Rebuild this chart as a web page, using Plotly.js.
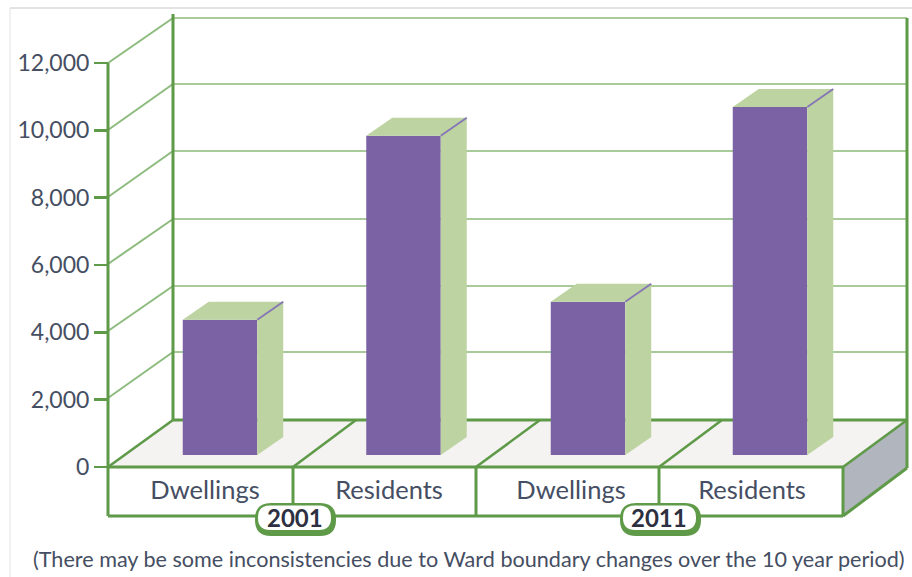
<!DOCTYPE html>
<html>
<head>
<meta charset="utf-8">
<script src="https://cdn.plot.ly/plotly-3.0.1.min.js"></script>
<style>html,body{margin:0;padding:0;background:#fff}#c{width:912px;height:577px}</style>
</head>
<body>
<div id="c"></div>
<script>
var categories = ["Dwellings", "Residents", "Dwellings", "Residents"];
var barValues = [4015, 9480, 4550, 10340];
var yTicks = [0, 2000, 4000, 6000, 8000, 10000, 12000];
var yTickLabels = ["0", "2,000", "4,000", "6,000", "8,000", "10,000", "12,000"];
var years = ["2001", "2011"];
var footnote = "(There may be some inconsistencies due to Ward boundary changes over the 10 year period)";

var W = 912, H = 577;
var UNIT_X = 183.75, UNIT_Y = 404 / 12000;
function cx(px) { return (px - 108) / UNIT_X; }
function vy(py) { return (467 - py) / UNIT_Y; }

var DARK = "#5f9a48", LIGHT = "#a9cb9a", DIAG = "#8dbb7e";
var PURPLE = "#7b62a5", SIDE = "#bdd3a1", EDGE = "#8676b6";
var TEXT = "#454e62";

var shapes = [];
function line(x0, y0, x1, y1, color, w) {
  shapes.push({type: "line", xref: "x", yref: "y", layer: "below",
    x0: cx(x0), y0: vy(y0), x1: cx(x1), y1: vy(y1),
    line: {color: color, width: w}});
}
function poly(pts, fill, stroke, w) {
  var d = pts.map(function (p, i) { return (i ? "L" : "M") + cx(p[0]) + " " + vy(p[1]); }).join(" ") + " Z";
  shapes.push({type: "path", xref: "x", yref: "y", layer: "below", path: d,
    fillcolor: fill, line: {color: stroke || fill, width: stroke ? w : 0}});
}
function pill(x0, y0, x1, y1, r, fill) {
  var P = function (x, y) { return cx(x) + " " + vy(y); };
  var d = "M" + P(x0 + r, y0) + " L" + P(x1 - r, y0) + " Q" + P(x1, y0) + " " + P(x1, y0 + r) +
    " L" + P(x1, y1 - r) + " Q" + P(x1, y1) + " " + P(x1 - r, y1) +
    " L" + P(x0 + r, y1) + " Q" + P(x0, y1) + " " + P(x0, y1 - r) +
    " L" + P(x0, y0 + r) + " Q" + P(x0, y0) + " " + P(x0 + r, y0) + " Z";
  shapes.push({type: "path", xref: "x", yref: "y", layer: "below", path: d,
    fillcolor: fill, line: {width: 0}});
}

// picture frame
line(10, 8, 912, 8, "#c9c7c5", 1.2);
line(10, 8, 10, 577, "#e4e2e0", 1);

// floor and side of the base
poly([[108, 467], [173, 420], [907, 420], [843, 467]], "#f4f3f1");
poly([[843, 467], [907, 420], [907, 468], [843, 516]], "#b0b5be");

// back wall grid and diagonal grid
[18, 84, 151, 219, 286, 352].forEach(function (y) { line(173, y, 907, y, LIGHT, 2.2); });
[[63, 18], [130, 84], [197, 151], [264, 219], [331, 286], [398, 352]].forEach(function (p) {
  line(108, p[0], 173, p[1], DIAG, 2);
});
line(173, 14, 173, 420, DARK, 3);
line(907, 18, 907, 468, DARK, 3);
line(173, 420, 907, 420, DARK, 3);

// floor dividers
[[108, 173], [293, 356], [476, 540], [659, 722], [843, 907]].forEach(function (p) {
  line(p[0], 467, p[1], 420, DARK, 2.6);
});

// front of the base
line(108, 63, 108, 516, DARK, 3);
line(108, 467, 843, 467, DARK, 3);
line(108, 516, 843, 516, DARK, 3);
[293, 476, 659, 843].forEach(function (x) { line(x, 467, x, 516, DARK, 3); });
line(843, 516, 907, 468, DARK, 3);

// year pills
[[255, 336, 258, 331], [620, 701, 623, 696]].forEach(function (p) {
  pill(p[0], 503, p[1], 536, 16, DARK);
  pill(p[2], 505.5, p[3], 530, 12, "#ffffff");
});

var barPos = [cx(220), cx(403.5), cx(588), cx(770)];
var barWidth = 74.5 / UNIT_X;
var barBase = vy(455);
var depthX = 26 / UNIT_X, depthY = 18 / UNIT_Y;

var traces = [];
categories.forEach(function (c, i) {
  var l = barPos[i] - barWidth / 2, r = barPos[i] + barWidth / 2;
  var top = barBase + barValues[i];
  traces.push({type: "scatter", mode: "none", fill: "toself", fillcolor: SIDE, hoverinfo: "skip",
    x: [r, r + depthX, r + depthX, r, r],
    y: [barBase, barBase + depthY, top + depthY, top, barBase]});
  traces.push({type: "scatter", mode: "none", fill: "toself", fillcolor: SIDE, hoverinfo: "skip",
    x: [l, l + depthX, r + depthX, r, l],
    y: [top, top + depthY, top + depthY, top, top]});
  traces.push({type: "scatter", mode: "lines", line: {color: EDGE, width: 1.8}, hoverinfo: "skip",
    x: [r, r + depthX], y: [top, top + depthY]});
});
traces.push({type: "bar", x: barPos, y: barValues, base: barBase, width: barWidth,
  marker: {color: PURPLE, line: {width: 0}}, name: "Count"});

var annotations = years.map(function (t, i) {
  return {xref: "x", yref: "y", x: cx([294.5, 659][i]), y: vy(517), text: "<b>" + t + "</b>",
    showarrow: false, xanchor: "center", yanchor: "middle",
    font: {family: "Lato, sans-serif", size: 24, color: "#2c3040"}};
});
annotations.push({xref: "x", yref: "y", x: cx(469), y: vy(559), text: footnote,
  showarrow: false, xanchor: "center", yanchor: "middle",
  font: {family: "Lato, sans-serif", size: 21.6, color: TEXT}});

var layout = {
  width: W, height: H, showlegend: false,
  margin: {l: 0, r: 0, t: 0, b: 0},
  paper_bgcolor: "#ffffff", plot_bgcolor: "#ffffff",
  hovermode: false,
  xaxis: {
    range: [cx(0), cx(W)], fixedrange: true, showgrid: false, zeroline: false, showline: false,
    anchor: "free", position: (H - 467) / H,
    tickmode: "array", tickvals: [cx(205), cx(389), cx(571), cx(752)], ticktext: categories,
    ticks: "outside", ticklen: 0, tickcolor: "rgba(0,0,0,0)",
    tickfont: {family: "Lato, sans-serif", size: 25.5, color: TEXT}
  },
  yaxis: {
    range: [vy(H), vy(0)], fixedrange: true, showgrid: false, zeroline: false, showline: false,
    anchor: "free", position: 108 / W,
    tickmode: "array", tickvals: yTicks, ticktext: yTickLabels,
    ticks: "outside", ticklen: 14, tickwidth: 2.6, tickcolor: DARK,
    tickfont: {family: "Lato, sans-serif", size: 23, color: TEXT}
  },
  shapes: shapes,
  annotations: annotations
};
Plotly.newPlot("c", traces, layout, {displayModeBar: false, staticPlot: true});
</script>
</body>
</html>
